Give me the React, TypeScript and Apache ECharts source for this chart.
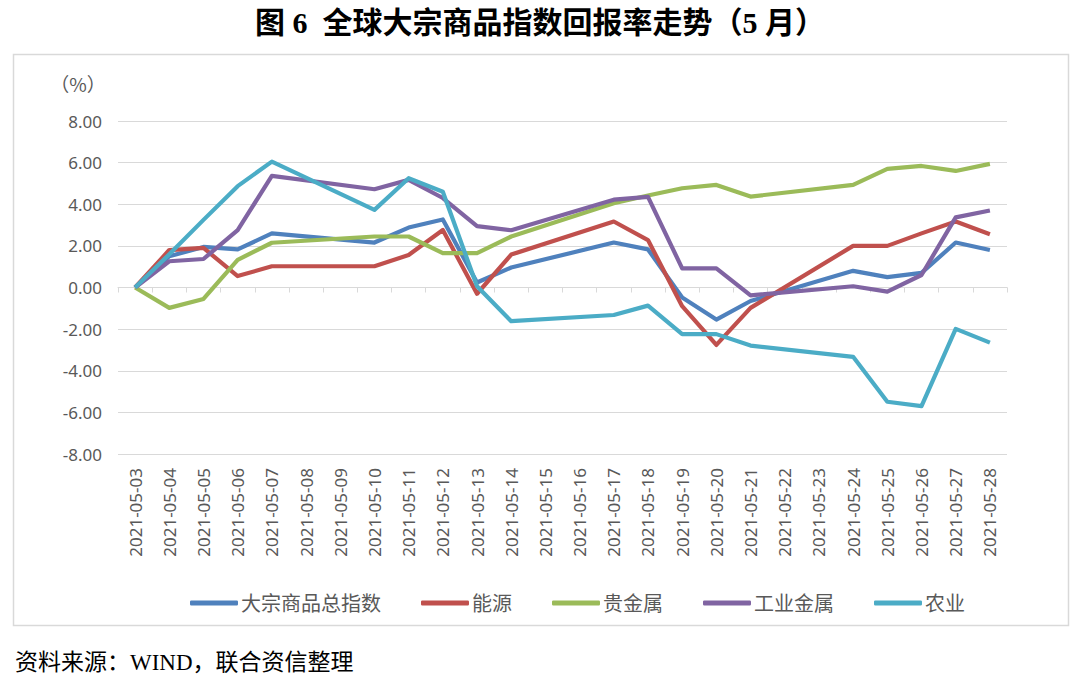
import React, { useEffect, useRef } from "react";
import * as echarts from "echarts";

const dates = [
  "2021-05-03", "2021-05-04", "2021-05-05", "2021-05-06", "2021-05-07", "2021-05-08",
  "2021-05-09", "2021-05-10", "2021-05-11", "2021-05-12", "2021-05-13", "2021-05-14",
  "2021-05-15", "2021-05-16", "2021-05-17", "2021-05-18", "2021-05-19", "2021-05-20",
  "2021-05-21", "2021-05-22", "2021-05-23", "2021-05-24", "2021-05-25", "2021-05-26",
  "2021-05-27", "2021-05-28",
];

// weekends have no data (null), lines are joined across them
const total = [0, 1.5, 1.95, 1.83, 2.6, null, null, 2.16, 2.88, 3.27, 0.24, 0.96, null, null, 2.16, 1.83, -0.48, -1.54, -0.65, null, null, 0.8, 0.5, 0.7, 2.16, 1.8];
const energy = [0, 1.8, 1.9, 0.55, 1.02, null, null, 1.02, 1.56, 2.76, -0.3, 1.58, null, null, 3.17, 2.28, -0.9, -2.76, -0.98, null, null, 2.0, 2.0, 2.6, 3.17, 2.56];
const precious = [0, -0.98, -0.55, 1.33, 2.15, null, null, 2.45, 2.45, 1.65, 1.65, 2.45, null, null, 4.05, 4.42, 4.77, 4.93, 4.37, null, null, 4.93, 5.7, 5.84, 5.6, 5.94];
const industrial = [0, 1.26, 1.37, 2.76, 5.36, null, null, 4.72, 5.17, 4.3, 2.95, 2.75, null, null, 4.22, 4.35, 0.92, 0.92, -0.38, null, null, 0.06, -0.2, 0.6, 3.37, 3.7];
const agri = [0, 1.6, 3.25, 4.87, 6.05, null, null, 3.73, 5.25, 4.6, 0.06, -1.62, null, null, -1.32, -0.87, -2.24, -2.24, -2.79, null, null, -3.33, -5.49, -5.7, -1.99, -2.65];

const seriesNames = ["大宗商品总指数", "能源", "贵金属", "工业金属", "农业"];
const seriesColors = ["#4F81BD", "#C0504D", "#9BBB59", "#8064A2", "#4BACC6"];
const seriesData = [total, energy, precious, industrial, agri];

const titleText = "图 6  全球大宗商品指数回报率走势（5 月）";
const sourceText = "资料来源：WIND，联合资信整理";
const unitText = "（%）";

export default function App() {
  const ref = useRef<HTMLDivElement>(null);
  useEffect(() => {
    if (!ref.current) return;
    const chart = echarts.init(ref.current, undefined, { renderer: "svg" });
    const gray = "#595959";
    const sans = "'Noto Sans', 'Noto Sans CJK SC', sans-serif";
    const serif = "'Liberation Serif', 'Noto Sans CJK SC', serif";
    chart.setOption({
      animation: false,
      backgroundColor: "#ffffff",
      grid: { left: 118, right: 73, top: 121, bottom: 226, containLabel: false },
      graphic: [
        {
          type: "rect",
          shape: { x: 13.5, y: 54.5, width: 1055, height: 571 },
          style: { fill: "none", stroke: "#d9d9d9", lineWidth: 1.5 },
          silent: true,
        },
        {
          type: "text",
          x: 540,
          y: 22,
          style: {
            text: titleText,
            fontSize: 30,
            fontWeight: "bold",
            fontFamily: serif,
            fill: "#000000",
            align: "center",
            verticalAlign: "middle",
          },
        },
        {
          type: "text",
          x: 15,
          y: 662,
          style: {
            text: sourceText,
            fontSize: 23,
            fontFamily: serif,
            fill: "#000000",
            align: "left",
            verticalAlign: "middle",
          },
        },
        {
          type: "text",
          x: 78,
          y: 83,
          style: {
            text: unitText,
            fontSize: 19,
            fontFamily: "'Noto Sans CJK SC', sans-serif",
            fill: gray,
            align: "center",
            verticalAlign: "middle",
          },
        },
      ],
      legend: {
        data: seriesNames,
        left: 185,
        top: 588,
        icon: "roundRect",
        itemWidth: 48,
        itemHeight: 5,
        itemGap: 40,
        textStyle: { color: gray, fontSize: 20, fontFamily: sans, padding: [0, 0, 0, -2] },
      },
      xAxis: [
        {
          type: "category",
          data: dates,
          boundaryGap: true,
          position: "bottom",
          axisLine: { show: false, onZero: false },
          axisTick: { show: false },
          axisLabel: { rotate: 90, margin: 14, color: gray, fontSize: 17, fontFamily: sans, interval: 0 },
          splitLine: { show: false },
        },
        {
          type: "category",
          data: dates,
          boundaryGap: true,
          position: "top",
          axisLine: { show: true, onZero: true, lineStyle: { color: "#d9d9d9", width: 1 } },
          axisTick: { show: true, inside: true, length: 5, interval: 0, lineStyle: { color: "#d9d9d9" } },
          axisLabel: { show: false },
          splitLine: { show: false },
        },
      ],
      yAxis: {
        type: "value",
        min: -8,
        max: 8,
        interval: 2,
        axisLine: { show: false },
        axisTick: { show: false },
        axisLabel: {
          color: gray,
          fontSize: 17,
          fontFamily: sans,
          margin: 16,
          formatter: (v: number) => v.toFixed(2),
        },
        splitLine: { lineStyle: { color: "#d9d9d9", width: 1 } },
      },
      series: seriesNames.map((name, i) => ({
        name,
        type: "line",
        data: seriesData[i],
        xAxisIndex: 0,
        connectNulls: true,
        symbol: "none",
        lineStyle: { color: seriesColors[i], width: 4.2, join: "round" },
        itemStyle: { color: seriesColors[i] },
        z: 2 + i,
      })),
    });
    return () => chart.dispose();
  }, []);
  return (
    <div
      ref={ref}
      style={{ position: "absolute", left: 0, top: 0, width: 1080, height: 680 }}
    />
  );
}
